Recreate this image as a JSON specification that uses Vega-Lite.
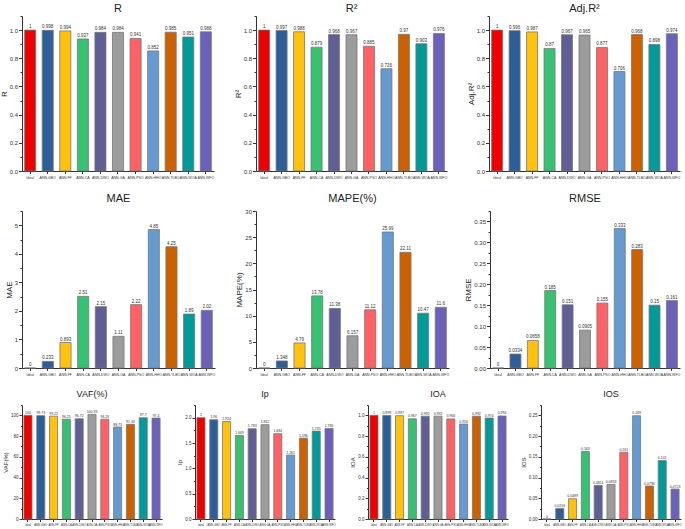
{
"$schema":"https://vega.github.io/schema/vega-lite/v6.json",
"padding":{"left":0,"top":2,"right":0,"bottom":0},
"background":"white",
"data":{"values":[
{"model":"Ideal","R":1,"R2":1,"AdjR2":1,"MAE":0,"MAPE":0,"RMSE":0,"VAF":100,"Ip":2,"IOA":1,"IOS":0},
{"model":"ANN-GBO","R":0.998,"R2":0.997,"AdjR2":0.996,"MAE":0.233,"MAPE":1.348,"RMSE":0.0334,"VAF":99.73,"Ip":1.96,"IOA":0.999,"IOS":0.0256},
{"model":"ANN-FF","R":0.994,"R2":0.988,"AdjR2":0.987,"MAE":0.893,"MAPE":4.79,"RMSE":0.0658,"VAF":99.22,"Ip":1.924,"IOA":0.997,"IOS":0.0489},
{"model":"ANN-CA","R":0.937,"R2":0.879,"AdjR2":0.87,"MAE":2.51,"MAPE":13.78,"RMSE":0.185,"VAF":96.25,"Ip":1.649,"IOA":0.967,"IOS":0.163},
{"model":"ANN-DWO","R":0.984,"R2":0.968,"AdjR2":0.967,"MAE":2.15,"MAPE":11.38,"RMSE":0.151,"VAF":96.72,"Ip":1.783,"IOA":0.992,"IOS":0.0811},
{"model":"ANN-GA","R":0.984,"R2":0.967,"AdjR2":0.965,"MAE":1.11,"MAPE":6.157,"RMSE":0.0905,"VAF":100.93,"Ip":1.862,"IOA":0.992,"IOS":0.0833},
{"model":"ANN-PSO","R":0.941,"R2":0.885,"AdjR2":0.877,"MAE":2.22,"MAPE":11.12,"RMSE":0.155,"VAF":96.26,"Ip":1.684,"IOA":0.966,"IOS":0.161},
{"model":"ANN-HHO","R":0.852,"R2":0.726,"AdjR2":0.706,"MAE":4.85,"MAPE":25.99,"RMSE":0.333,"VAF":88.73,"Ip":1.261,"IOA":0.916,"IOS":0.249},
{"model":"ANN-TLBO","R":0.985,"R2":0.97,"AdjR2":0.968,"MAE":4.25,"MAPE":22.11,"RMSE":0.283,"VAF":91.33,"Ip":1.596,"IOA":0.992,"IOS":0.0796},
{"model":"ANN-WOA","R":0.951,"R2":0.903,"AdjR2":0.898,"MAE":1.89,"MAPE":10.47,"RMSE":0.15,"VAF":97.7,"Ip":1.735,"IOA":0.974,"IOS":0.141},
{"model":"ANN-WFO","R":0.988,"R2":0.976,"AdjR2":0.974,"MAE":2.02,"MAPE":11.6,"RMSE":0.161,"VAF":97.4,"Ip":1.786,"IOA":0.994,"IOS":0.0723}
]},
"config":{
"font":"Liberation Sans",
"view":{"stroke":null},
"range":{"category":["#EE0000","#2E5E98","#FFC20E","#38C172","#5F5F96","#9C9C9C","#FF6166","#659BD0","#CC6100","#009A98","#6C61BA"]},
"title":{"fontSize":11,"fontWeight":"normal","offset":3,"color":"#222","frame":"group"},
"axis":{"grid":false,"domainColor":"#333","tickColor":"#333","labelColor":"#333","titleColor":"#222","titleFontWeight":"normal"},
"axisY":{"labelFontSize":6,"titleFontSize":8,"titlePadding":1,"labelPadding":1},
"axisX":{"labelFontSize":3.5,"labelAngle":0,"tickSize":2.5,"labelPadding":1.5,"labelOverlap":false}
},
"spacing":13,
"vconcat":[
{"bounds":"flush","spacing":42,"hconcat":[
{"width":192,"height":155,"title":{"text":"R","offset":2},
"encoding":{"x":{"field":"model","type":"nominal","sort":null,"scale":{"paddingInner":0.37,"paddingOuter":0.15},"axis":{"title":null}},
"y":{"field":"R","type":"quantitative","scale":{"domain":[0,1.1],"nice":false},"axis":{"title":"R","values":[0,0.1,0.2,0.3,0.4,0.5,0.6,0.7,0.8,0.9,1,1.1],"labelExpr":"round(datum.value/0.1)%2==0 ? format(datum.value,'.1f') : ''","tickSize":{"condition":{"test":"round(datum.value/0.1)%2!=0","value":2},"value":3.5}}}},
"layer":[{"mark":{"type":"bar","stroke":"#777","strokeWidth":0.8},"encoding":{"color":{"field":"model","type":"nominal","sort":null,"legend":null}}},
{"mark":{"type":"text","dy":-3,"fontSize":4.5,"color":"#333"},"encoding":{"text":{"field":"R","type":"nominal"}}}]},
{"width":191,"height":155,"title":{"text":"R²","offset":2},
"encoding":{"x":{"field":"model","type":"nominal","sort":null,"scale":{"paddingInner":0.37,"paddingOuter":0.15},"axis":{"title":null}},
"y":{"field":"R2","type":"quantitative","scale":{"domain":[0,1.1],"nice":false},"axis":{"title":"R²","values":[0,0.1,0.2,0.3,0.4,0.5,0.6,0.7,0.8,0.9,1,1.1],"labelExpr":"round(datum.value/0.1)%2==0 ? format(datum.value,'.1f') : ''","tickSize":{"condition":{"test":"round(datum.value/0.1)%2!=0","value":2},"value":3.5}}}},
"layer":[{"mark":{"type":"bar","stroke":"#777","strokeWidth":0.8},"encoding":{"color":{"field":"model","type":"nominal","sort":null,"legend":null}}},
{"mark":{"type":"text","dy":-3,"fontSize":4.5,"color":"#333"},"encoding":{"text":{"field":"R2","type":"nominal"}}}]},
{"width":191,"height":155,"title":{"text":"Adj.R²","offset":2},
"encoding":{"x":{"field":"model","type":"nominal","sort":null,"scale":{"paddingInner":0.37,"paddingOuter":0.15},"axis":{"title":null}},
"y":{"field":"AdjR2","type":"quantitative","scale":{"domain":[0,1.1],"nice":false},"axis":{"title":"Adj.R²","values":[0,0.1,0.2,0.3,0.4,0.5,0.6,0.7,0.8,0.9,1,1.1],"labelExpr":"round(datum.value/0.1)%2==0 ? format(datum.value,'.1f') : ''","tickSize":{"condition":{"test":"round(datum.value/0.1)%2!=0","value":2},"value":3.5}}}},
"layer":[{"mark":{"type":"bar","stroke":"#777","strokeWidth":0.8},"encoding":{"color":{"field":"model","type":"nominal","sort":null,"legend":null}}},
{"mark":{"type":"text","dy":-3,"fontSize":4.5,"color":"#333"},"encoding":{"text":{"field":"AdjR2","type":"nominal"}}}]}
]},
{"bounds":"flush","spacing":41,"hconcat":[
{"width":193,"height":157,"title":{"text":"MAE","offset":7},
"encoding":{"x":{"field":"model","type":"nominal","sort":null,"scale":{"paddingInner":0.37,"paddingOuter":0.15},"axis":{"title":null}},
"y":{"field":"MAE","type":"quantitative","scale":{"domain":[0,5.5],"nice":false},"axis":{"title":"MAE","values":[0,0.5,1,1.5,2,2.5,3,3.5,4,4.5,5,5.5],"labelExpr":"round(datum.value/0.5)%2==0 ? format(datum.value,'d') : ''","tickSize":{"condition":{"test":"round(datum.value/0.5)%2!=0","value":2},"value":3.5}}}},
"layer":[{"mark":{"type":"bar","stroke":"#777","strokeWidth":0.8},"encoding":{"color":{"field":"model","type":"nominal","sort":null,"legend":null}}},
{"mark":{"type":"text","dy":-3,"fontSize":4.5,"color":"#333"},"encoding":{"text":{"field":"MAE","type":"nominal"}}}]},
{"width":193,"height":157,"title":{"text":"MAPE(%)","offset":4},
"encoding":{"x":{"field":"model","type":"nominal","sort":null,"scale":{"paddingInner":0.37,"paddingOuter":0.15},"axis":{"title":null}},
"y":{"field":"MAPE","type":"quantitative","scale":{"domain":[0,30],"nice":false},"axis":{"title":"MAPE(%)","values":[0,2.5,5,7.5,10,12.5,15,17.5,20,22.5,25,27.5,30],"labelExpr":"round(datum.value/2.5)%2==0 ? format(datum.value,'d') : ''","tickSize":{"condition":{"test":"round(datum.value/2.5)%2!=0","value":2},"value":3.5}}}},
"layer":[{"mark":{"type":"bar","stroke":"#777","strokeWidth":0.8},"encoding":{"color":{"field":"model","type":"nominal","sort":null,"legend":null}}},
{"mark":{"type":"text","dy":-3,"fontSize":4.5,"color":"#333"},"encoding":{"text":{"field":"MAPE","type":"nominal"}}}]},
{"width":190,"height":157,"title":{"text":"RMSE","offset":7},
"encoding":{"x":{"field":"model","type":"nominal","sort":null,"scale":{"paddingInner":0.37,"paddingOuter":0.15},"axis":{"title":null}},
"y":{"field":"RMSE","type":"quantitative","scale":{"domain":[0,0.375],"nice":false},"axis":{"title":"RMSE","values":[0,0.025,0.05,0.075,0.1,0.125,0.15,0.175,0.2,0.225,0.25,0.275,0.3,0.325,0.35,0.375],"labelExpr":"round(datum.value/0.025)%2==0 ? format(datum.value,'.2f') : ''","tickSize":{"condition":{"test":"round(datum.value/0.025)%2!=0","value":2},"value":3.5}}}},
"layer":[{"mark":{"type":"bar","stroke":"#777","strokeWidth":0.8},"encoding":{"color":{"field":"model","type":"nominal","sort":null,"legend":null}}},
{"mark":{"type":"text","dy":-3,"fontSize":4.5,"color":"#333"},"encoding":{"text":{"field":"RMSE","type":"nominal"}}}]}
]},
{"bounds":"flush","spacing":33,"hconcat":[
{"width":140,"height":114,"title":{"text":"VAF(%)","fontSize":9,"offset":6},
"encoding":{"x":{"field":"model","type":"nominal","sort":null,"scale":{"paddingInner":0.37,"paddingOuter":0.15},"axis":{"title":null,"labelFontSize":2.8}},
"y":{"field":"VAF","type":"quantitative","scale":{"domain":[0,110],"nice":false},"axis":{"title":"VAF(%)","titleFontSize":6,"titlePadding":2,"labelFontSize":4.5,"values":[0,10,20,30,40,50,60,70,80,90,100,110],"labelExpr":"round(datum.value/10)%2==0 ? format(datum.value,'d') : ''","tickSize":{"condition":{"test":"round(datum.value/10)%2!=0","value":1.5},"value":3}}}},
"layer":[{"mark":{"type":"bar","stroke":"#777","strokeWidth":0.8},"encoding":{"color":{"field":"model","type":"nominal","sort":null,"legend":null}}},
{"mark":{"type":"text","dy":-2.5,"fontSize":3.5,"color":"#333"},"encoding":{"text":{"field":"VAF","type":"nominal"}}}]},
{"width":140,"height":114,"title":{"text":"Ip","fontSize":9,"offset":6},
"encoding":{"x":{"field":"model","type":"nominal","sort":null,"scale":{"paddingInner":0.37,"paddingOuter":0.15},"axis":{"title":null,"labelFontSize":2.8}},
"y":{"field":"Ip","type":"quantitative","scale":{"domain":[0,2.25],"nice":false},"axis":{"title":"Ip","titleFontSize":6,"titlePadding":2,"labelFontSize":4.5,"values":[0,0.25,0.5,0.75,1,1.25,1.5,1.75,2,2.25],"labelExpr":"round(datum.value/0.25)%2==0 ? format(datum.value,'.1f') : ''","tickSize":{"condition":{"test":"round(datum.value/0.25)%2!=0","value":1.5},"value":3}}}},
"layer":[{"mark":{"type":"bar","stroke":"#777","strokeWidth":0.8},"encoding":{"color":{"field":"model","type":"nominal","sort":null,"legend":null}}},
{"mark":{"type":"text","dy":-2.5,"fontSize":3.5,"color":"#333"},"encoding":{"text":{"field":"Ip","type":"nominal"}}}]},
{"width":140,"height":114,"title":{"text":"IOA","fontSize":9,"offset":6},
"encoding":{"x":{"field":"model","type":"nominal","sort":null,"scale":{"paddingInner":0.37,"paddingOuter":0.15},"axis":{"title":null,"labelFontSize":2.8}},
"y":{"field":"IOA","type":"quantitative","scale":{"domain":[0,1.1],"nice":false},"axis":{"title":"IOA","titleFontSize":6,"titlePadding":2,"labelFontSize":4.5,"values":[0,0.1,0.2,0.3,0.4,0.5,0.6,0.7,0.8,0.9,1,1.1],"labelExpr":"round(datum.value/0.1)%2==0 ? format(datum.value,'.1f') : ''","tickSize":{"condition":{"test":"round(datum.value/0.1)%2!=0","value":1.5},"value":3}}}},
"layer":[{"mark":{"type":"bar","stroke":"#777","strokeWidth":0.8},"encoding":{"color":{"field":"model","type":"nominal","sort":null,"legend":null}}},
{"mark":{"type":"text","dy":-2.5,"fontSize":3.5,"color":"#333"},"encoding":{"text":{"field":"IOA","type":"nominal"}}}]},
{"width":140,"height":114,"title":{"text":"IOS","fontSize":9,"offset":6},
"encoding":{"x":{"field":"model","type":"nominal","sort":null,"scale":{"paddingInner":0.37,"paddingOuter":0.15},"axis":{"title":null,"labelFontSize":2.8}},
"y":{"field":"IOS","type":"quantitative","scale":{"domain":[0,0.275],"nice":false},"axis":{"title":"IOS","titleFontSize":6,"titlePadding":2,"labelFontSize":4.5,"values":[0,0.025,0.05,0.075,0.1,0.125,0.15,0.175,0.2,0.225,0.25,0.275],"labelExpr":"round(datum.value/0.025)%2==0 ? format(datum.value,'.2f') : ''","tickSize":{"condition":{"test":"round(datum.value/0.025)%2!=0","value":1.5},"value":3}}}},
"layer":[{"mark":{"type":"bar","stroke":"#777","strokeWidth":0.8},"encoding":{"color":{"field":"model","type":"nominal","sort":null,"legend":null}}},
{"mark":{"type":"text","dy":-2.5,"fontSize":3.5,"color":"#333"},"encoding":{"text":{"field":"IOS","type":"nominal"}}}]}
]}
]
}
